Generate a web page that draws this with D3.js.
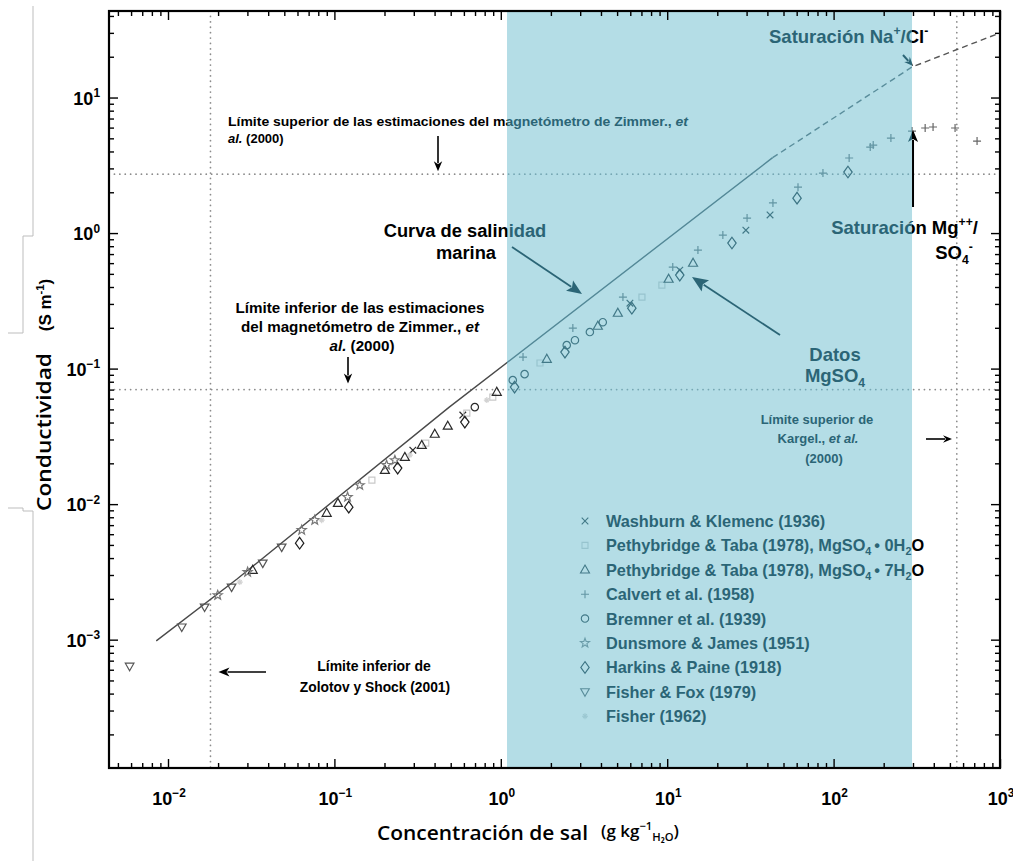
<!DOCTYPE html>
<html><head><meta charset="utf-8">
<script src="https://cdn.jsdelivr.net/npm/d3@7"></script>
<style>body{margin:0;background:#fff}svg{display:block}</style>
</head><body>
<script>
// ---------------- data ----------------
const xDomain = [0.00442, 1000];
const yDomain = [1.13e-4, 43.5];
const xMajorTicks = [0.01, 0.1, 1, 10, 100, 1000];
const xTickLabels = ["10^{−2}", "10^{−1}", "10^{0}", "10^{1}", "10^{2}", "10^{3}"];
const yMajorTicks = [0.001, 0.01, 0.1, 1, 10];
const yTickLabels = ["10^{−3}", "10^{−2}", "10^{−1}", "10^{0}", "10^{1}"];

const seawaterSolid = [[0.0085, 0.00098], [0.026, 0.0028], [0.49, 0.052], [43, 3.6]];
const seawaterDashed = [[43, 3.6], [296, 16.8], [1000, 30]];

const blueRange = [1.09, 296];          // shaded concentration band
const zimmerUpper = 2.72, zimmerLower = 0.07;
const zolotovLower = 0.018, kargelUpper = 550;

const washburnData = [[0.296,0.025],[0.591,0.0454],[5.97,0.304],[11.9,0.533],[29.7,1.05],[41.5,1.36]];
const pethy0Data = [[0.168,0.01503],[0.354,0.0282],[0.625,0.047],[0.895,0.0616],[1.72,0.11],[7.05,0.337],[9.29,0.413]];
const pethy7Data = [[0.0323,0.00326],[0.0899,0.00859],[0.105,0.01017],[0.201,0.0178],[0.265,0.0222],[0.335,0.0272],[0.401,0.0329],[0.48,0.0377],[0.946,0.0671],[1.89,0.1175],[3.83,0.206],[5.05,0.257],[10.2,0.458],[14.3,0.601]];
const calvertData = [[1.36,0.1216],[2.71,0.199],[5.42,0.337],[10.8,0.561],[15.3,0.749],[21.6,0.967],[30.2,1.29],[43.2,1.67],[61.1,2.18],[86.3,2.77],[124,3.58],[166,4.31],[173,4.46],[221,5.02],[296,5.66],[355,5.96],[396,6.06],[537,5.96],[728,4.77]];
const bremnerData = [[0.698,0.052],[1.18,0.0822],[1.39,0.091],[2.49,0.149],[2.79,0.162],[3.43,0.186],[4.1,0.22]];
const dunsmoreData = [[0.0199,0.00213],[0.0301,0.00315],[0.0636,0.00643],[0.0762,0.00762],[0.12,0.01127],[0.142,0.0138],[0.206,0.0194],[0.231,0.0211]];
const harkinsData = [[0.0618,0.00515],[0.122,0.0095],[0.24,0.01844],[0.608,0.0403],[1.21,0.073],[2.43,0.1324],[6.13,0.279],[11.9,0.49],[24.5,0.844],[60.3,1.81],[122,2.82]];
const fisherFoxData = [[0.00588,0.000637],[0.0121,0.00124],[0.0166,0.00174],[0.0241,0.00244],[0.0371,0.00367],[0.0482,0.00482]];
const fisherData = [[0.027,0.00266],[0.0839,0.00762],[0.284,0.023],[0.824,0.0586]];

const legendLabels = [
  "Washburn & Klemenc (1936)",
  "Pethybridge & Taba (1978), MgSO_{4}^{ }• 0H_{2}O",
  "Pethybridge & Taba (1978), MgSO_{4}^{ }• 7H_{2}O",
  "Calvert et al. (1958)",
  "Bremner et al. (1939)",
  "Dunsmore & James (1951)",
  "Harkins & Paine (1918)",
  "Fisher & Fox (1979)",
  "Fisher (1962)"
];

// ---------------- setup ----------------
const W = 1013, H = 861;
const L = 109, R = 1000, T = 11, B = 768;
const x = d3.scaleLog().domain(xDomain).range([L, R]);
const y = d3.scaleLog().domain(yDomain).range([B, T]);

const svg = d3.select("body").append("svg").attr("width", W).attr("height", H);
const FONT = "'Liberation Sans', Arial, Helvetica, sans-serif";
const TITLEFONT = "'Open Sans', 'Noto Sans', sans-serif";

// symbols
function starPath(ro, ri){ let p=""; for(let i=0;i<10;i++){const r=i%2?ri:ro; const a=-Math.PI/2+i*Math.PI/5; p+=(i?"L":"M")+(r*Math.cos(a)).toFixed(2)+","+(r*Math.sin(a)).toFixed(2);} return p+"Z"; }
const SYM = {
  cross: "M-3.3,-3.3L3.3,3.3M-3.3,3.3L3.3,-3.3",
  square: "M-3,-3H3V3H-3Z",
  triUp: "M0,-4.8L4.5,3.2L-4.5,3.2Z",
  plus: "M-4,0H4M0,-4V4",
  circle: "M3.7,0A3.7,3.7 0 1,1 -3.7,0A3.7,3.7 0 1,1 3.7,0Z",
  star: starPath(4.8, 2),
  diamond: "M0,-5.8L4.2,0L0,5.8L-4.2,0Z",
  triDown: "M0,4.5L4.3,-3L-4.3,-3Z",
  aster: "M-3,0H3M0,-3V3M-2,-2L2,2M-2,2L2,-2"
};
const series = [
  {data: washburnData, sym: SYM.cross, color: "#2a2a2a"},
  {data: pethy0Data, sym: SYM.square, color: "#c9c9c9"},
  {data: pethy7Data, sym: SYM.triUp, color: "#2a2a2a"},
  {data: calvertData, sym: SYM.plus, color: "#666"},
  {data: bremnerData, sym: SYM.circle, color: "#2a2a2a"},
  {data: dunsmoreData, sym: SYM.star, color: "#777"},
  {data: harkinsData, sym: SYM.diamond, color: "#1e1e1e"},
  {data: fisherFoxData, sym: SYM.triDown, color: "#555"},
  {data: fisherData, sym: SYM.aster, color: "#d2d2d2"}
];

// colour mapping inside the blue band (duotone)
const tDark = d3.rgb("#2b6576"), tLight = d3.rgb("#b4dde6");
function tint(c){ const r = d3.rgb(c); const l = (0.299*r.r + 0.587*r.g + 0.114*r.b)/255; return d3.interpolateRgb(tDark, tLight)(l); }
const ident = c => c;

// rich text: ^{sup} _{sub} *italic*
function parseRich(str){
  const segs=[]; let i=0, it=false, buf="";
  const push=()=>{ if(buf) segs.push({t:buf, mode:null, it}); buf=""; };
  while(i<str.length){
    const c=str[i];
    if((c==='^'||c==='_') && str[i+1]==='{'){ push(); const j=str.indexOf('}', i); segs.push({t:str.slice(i+2,j), mode:c==='^'?'sup':'sub', it}); i=j+1; continue; }
    if(c==='*'){ push(); it=!it; i++; continue; }
    buf+=c; i++;
  }
  push(); return segs;
}
function rich(g, str, px, py, fs, opt={}){
  const t = g.append("text").attr("x", px).attr("y", py)
    .attr("font-size", fs).attr("font-family", opt.family || FONT)
    .attr("font-weight", opt.weight || "bold")
    .attr("text-anchor", opt.anchor || "start")
    .attr("fill", opt.fill || "#000");
  if (opt.len) t.attr("textLength", opt.len).attr("lengthAdjust", "spacingAndGlyphs");
  let cur = 0;
  parseRich(str).forEach(s => {
    const shift = s.mode==='sup' ? -fs*0.42 : s.mode==='sub' ? fs*0.25 : 0;
    const ts = t.append("tspan").attr("dy", shift-cur).text(s.t);
    if (s.mode) ts.attr("font-size", fs*0.66);
    if (s.it) ts.attr("font-style", "italic");
    cur = shift;
  });
  return t;
}
function arrow(g, x1, y1, x2, y2, color, head=11, w=1.6){
  const a = Math.atan2(y2-y1, x2-x1), hw = head*0.42;
  const bx = x2-head*Math.cos(a), by = y2-head*Math.sin(a);
  g.append("line").attr("x1",x1).attr("y1",y1).attr("x2",bx+2*Math.cos(a)).attr("y2",by+2*Math.sin(a))
    .attr("stroke",color).attr("stroke-width",w);
  g.append("path").attr("d",`M${x2},${y2}L${bx-hw*Math.sin(a)},${by+hw*Math.cos(a)}L${bx+3*Math.cos(a)},${by+3*Math.sin(a)}L${bx+hw*Math.sin(a)},${by-hw*Math.cos(a)}Z`)
    .attr("fill",color);
}

// ---------------- blue band & clips ----------------
const bx0 = x(blueRange[0]), bx1 = x(blueRange[1]);
const defs = svg.append("defs");
defs.append("clipPath").attr("id","cin").append("rect").attr("x",bx0).attr("y",T).attr("width",bx1-bx0).attr("height",B-T);
defs.append("clipPath").attr("id","cout").append("path")
  .attr("clip-rule","evenodd")
  .attr("d",`M0,0H${W}V${H}H0Z M${bx0},${T}H${bx1}V${B}H${bx0}Z`);

svg.append("rect").attr("x",bx0).attr("y",T).attr("width",bx1-bx0).attr("height",B-T).attr("fill","#b4dde6");

// ---------------- content (drawn twice) ----------------
function drawContent(g, C){
  const dot = (x1,y1,x2,y2) => g.append("line").attr("x1",x1).attr("y1",y1).attr("x2",x2).attr("y2",y2)
    .attr("stroke",C("#8c8c8c")).attr("stroke-width",1.7).attr("stroke-dasharray","0.1,5.3").attr("stroke-linecap","round");
  dot(L, y(zimmerUpper), R, y(zimmerUpper));
  dot(L, y(zimmerLower), R, y(zimmerLower));
  dot(x(zolotovLower), T, x(zolotovLower), B);
  dot(x(kargelUpper), T, x(kargelUpper), B);

  const ln = d3.line().x(d => x(d[0])).y(d => y(d[1]));
  g.append("path").datum(seawaterSolid).attr("d", ln).attr("fill","none").attr("stroke",C("#4a4a4a")).attr("stroke-width",1.4);
  g.append("path").datum(seawaterDashed).attr("d", ln).attr("fill","none").attr("stroke",C("#555")).attr("stroke-width",1.4).attr("stroke-dasharray","6,4");

  series.forEach(s => {
    g.append("g").selectAll("path").data(s.data).join("path")
      .attr("transform", d => `translate(${x(d[0])},${y(d[1])})`)
      .attr("d", s.sym).attr("fill","none").attr("stroke", C(s.color)).attr("stroke-width",1.2);
  });

  const K = C("#000");
  // upper Zimmer
  rich(g, "Límite superior de las estimaciones del magnetómetro de Zimmer., *et*", 228, 126, 13, {fill:K, len:460});
  rich(g, "*al.* (2000)", 228, 143, 13, {fill:K});
  arrow(g, 438, 136, 438, y(zimmerUpper)-3, K, 10);
  // lower Zimmer
  rich(g, "Límite inferior de las estimaciones", 360, 313, 15.2, {fill:K, anchor:"middle"});
  rich(g, "del magnetómetro de Zimmer., *et*", 360, 332, 15.2, {fill:K, anchor:"middle"});
  rich(g, "*al.* (2000)", 362, 351, 15.2, {fill:K, anchor:"middle"});
  arrow(g, 348, 357, 348, y(zimmerLower)-6, K, 10);
  // seawater curve
  rich(g, "Curva de salinidad", 465, 237, 18.3, {fill:K, anchor:"middle"});
  rich(g, "marina", 466, 259, 18.3, {fill:K, anchor:"middle"});
  arrow(g, 512, 247, 582, 294, K, 15, 1.8);
  // MgSO4 data
  rich(g, "Datos", 835, 361, 18.5, {fill:K, anchor:"middle"});
  rich(g, "MgSO_{4}", 835, 382, 18.5, {fill:K, anchor:"middle"});
  arrow(g, 780, 335, 692, 277, K, 16, 1.8);
  // Kargel
  rich(g, "Límite superior de", 817, 424, 13, {fill:K, anchor:"middle"});
  rich(g, "Kargel., *et al.*", 818, 443, 13, {fill:K, anchor:"middle"});
  rich(g, "(2000)", 824, 463, 13, {fill:K, anchor:"middle"});
  arrow(g, 926, 439, 952, 439, K, 9);
  // Zolotov
  rich(g, "Límite inferior de", 374, 671, 14, {fill:K, anchor:"middle"});
  rich(g, "Zolotov y Shock (2001)", 375, 692, 13.8, {fill:K, anchor:"middle"});
  arrow(g, 266, 672, x(zolotovLower)+8, 672, K, 11);
  // saturation NaCl
  rich(g, "Saturación Na^{+}/Cl^{-}", 769, 43, 18.5, {fill:K});
  arrow(g, 903, 55, x(blueRange[1])+1, y(16.8)-1, K, 9, 2);
  // saturation Mg
  rich(g, "Saturación Mg^{++}/", 978, 234, 18.5, {fill:K, anchor:"end"});
  rich(g, "SO_{4}^{-}", 954, 259, 18.5, {fill:K, anchor:"middle"});
  arrow(g, x(296)+1, 207, x(296)+1, 130, K, 12, 2);

  // legend
  const lg = g.append("g");
  legendLabels.forEach((lab, i) => {
    const ry = 521 + i*24.4;
    lg.append("path").attr("transform",`translate(585,${ry})`).attr("d", series[i].sym)
      .attr("fill","none").attr("stroke", C(series[i].color)).attr("stroke-width",1.1);
    rich(lg, lab, 606, ry+6, 16.3, {fill:K});
  });
}
drawContent(svg.append("g").attr("clip-path","url(#cout)"), ident);
drawContent(svg.append("g").attr("clip-path","url(#cin)"), tint);

// ---------------- axes ----------------
function minors(lo, hi){ const a=[]; for(let d=lo; d<=hi; d++) for(let m=2;m<=9;m++){ const v=m*Math.pow(10,d); a.push(v);} return a; }
const xMin = minors(-3, 2).filter(v => v>xDomain[0] && v<xDomain[1]);
const yMin = minors(-4, 1).filter(v => v>yDomain[0] && v<yDomain[1]);
function ax(gen, tr, vals, size){
  const g = svg.append("g").attr("transform", tr).call(gen.tickValues(vals).tickSize(size).tickFormat(""));
  g.select(".domain").remove();
  g.selectAll("line").attr("stroke","#000").attr("stroke-width",1.4);
}
ax(d3.axisBottom(x), `translate(0,${B})`, xMajorTicks, -9);
ax(d3.axisBottom(x), `translate(0,${B})`, xMin, -5);
ax(d3.axisTop(x), `translate(0,${T})`, xMajorTicks, -9);
ax(d3.axisTop(x), `translate(0,${T})`, xMin, -5);
ax(d3.axisLeft(y), `translate(${L},0)`, yMajorTicks, -9);
ax(d3.axisLeft(y), `translate(${L},0)`, yMin, -5);
ax(d3.axisRight(y), `translate(${R},0)`, yMajorTicks, -9);
ax(d3.axisRight(y), `translate(${R},0)`, yMin, -5);
svg.append("rect").attr("x",L).attr("y",T).attr("width",R-L).attr("height",B-T)
  .attr("fill","none").attr("stroke","#000").attr("stroke-width",2.2);

// tick labels
xMajorTicks.forEach((v,i) => rich(svg, xTickLabels[i], x(v)+1, 805, 18, {anchor:"middle"}));
yMajorTicks.forEach((v,i) => rich(svg, yTickLabels[i], 100, y(v)+7, 18, {anchor:"end"}));

// axis titles
svg.append("text").attr("transform","translate(51,432) rotate(-90)").attr("text-anchor","middle")
  .attr("font-family",TITLEFONT).attr("font-weight",600).attr("font-size",20)
  .attr("textLength",158).attr("lengthAdjust","spacingAndGlyphs").text("Conductividad");
rich(svg.append("g").attr("transform","translate(51,305) rotate(-90)"), "(S m^{-1})", 0, 0, 17, {anchor:"middle"});

svg.append("text").attr("x",377).attr("y",840)
  .attr("font-family",TITLEFONT).attr("font-weight",600).attr("font-size",20)
  .attr("textLength",211).attr("lengthAdjust","spacingAndGlyphs").text("Concentración de sal");
rich(svg, "(g kg^{−1}_{H₂O})", 601, 837, 17, {family:TITLEFONT, weight:600});

// decorative bracket at left edge (scan artifact)
svg.append("path").attr("d","M33,6V236H23V333H8M8,508H23V511H33V861")
  .attr("fill","none").attr("stroke","#bdbdbd").attr("stroke-width",1);
</script>
</body></html>
